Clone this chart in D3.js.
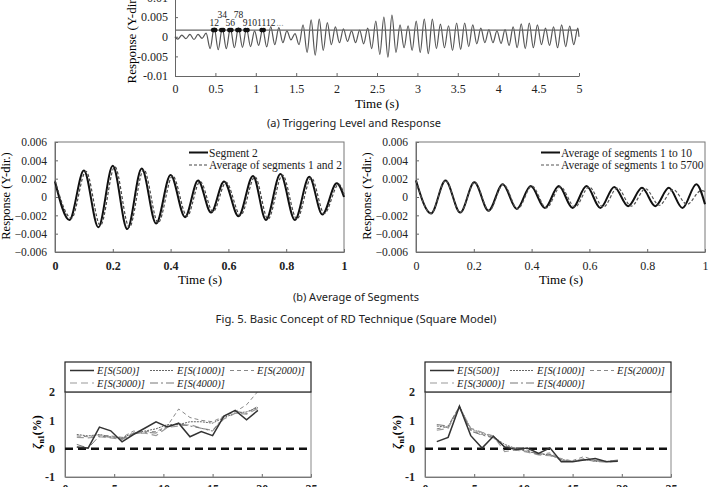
<!DOCTYPE html>
<html>
<head>
<meta charset="utf-8">
<script src="https://cdn.jsdelivr.net/npm/d3@7"></script>
<style>
  body { margin: 0; background: #fff; }
  svg { display: block; }
</style>
</head>
<body>
<svg id="fig" width="712" height="487"></svg>
<script>
// ---- (a) response record: one trough and one peak per 0.1 s cycle ----
const respTroughs = [-0.0006, -0.0005, -0.0007, -0.0004, -0.003, -0.0033, -0.003, -0.0028, -0.0027, -0.0025,
  -0.0022, -0.0026, -0.002, -0.0015, -0.0008, -0.002, -0.004, -0.0047, -0.0035, -0.002,
  -0.0015, -0.0012, -0.0015, -0.0018, -0.003, -0.0045, -0.0052, -0.004, -0.0028, -0.0035,
  -0.004, -0.0043, -0.003, -0.0028, -0.0035, -0.0032, -0.0025, -0.0018, -0.0015, -0.0015,
  -0.0017, -0.0022, -0.0028, -0.003, -0.0028, -0.002, -0.0022, -0.0028, -0.0025, -0.002];
const respPeaks = [0.0004, 0.0006, 0.0006, 0.0009, 0.0023, 0.0022, 0.0022, 0.0023, 0.0021, 0.0015,
  0.002, 0.0026, 0.0023, 0.0015, 0.0008, 0.003, 0.0043, 0.0045, 0.0036, 0.0025,
  0.002, 0.0015, 0.0017, 0.0022, 0.004, 0.005, 0.0055, 0.003, 0.0028, 0.004,
  0.0045, 0.0045, 0.0032, 0.0028, 0.0035, 0.0035, 0.003, 0.0022, 0.0018, 0.0015,
  0.0018, 0.0025, 0.0033, 0.0035, 0.003, 0.0022, 0.0025, 0.003, 0.0027, 0.0022];
const triggerLevel = 0.0017;
const crossTimes = [0.472, 0.498, 0.572, 0.598, 0.672, 0.698, 0.772, 0.798, 0.872, 0.898, 1.072, 1.098];
const crossLabels = ['12', '34', '56', '78', '9101112', '...'];
const crossLabelT = [0.485, 0.585, 0.685, 0.785, 0.84, 1.3];
const aXTicks = [0, 0.5, 1, 1.5, 2, 2.5, 3, 3.5, 4, 4.5, 5];
const aYTicks = [-0.01, -0.005, 0, 0.005, 0.01];

// ---- (b) averaged segments ----
const seg2T = [0, 0.05, 0.1, 0.15, 0.2, 0.25, 0.3, 0.35, 0.4, 0.45, 0.495, 0.54, 0.585, 0.635, 0.685, 0.73, 0.78, 0.83, 0.88, 0.925, 0.975, 1.0];
const seg2V = [0.0017, -0.0025, 0.0029, -0.0033, 0.0034, -0.0035, 0.0031, -0.0029, 0.0024, -0.0022, 0.0018, -0.0017, 0.0017, -0.0021, 0.0023, -0.0025, 0.0025, -0.0025, 0.0022, -0.0019, 0.0015, 0.0];
const avg12T = [0, 0.057, 0.107, 0.157, 0.207, 0.257, 0.307, 0.357, 0.407, 0.457, 0.502, 0.547, 0.592, 0.642, 0.692, 0.737, 0.787, 0.837, 0.887, 0.932, 0.982, 1.0];
const avg12V = [0.0018, -0.0023, 0.0028, -0.0031, 0.0033, -0.0033, 0.003, -0.0028, 0.0023, -0.0021, 0.0017, -0.0016, 0.0016, -0.002, 0.0022, -0.0024, 0.0024, -0.0024, 0.0021, -0.0018, 0.0014, 0.0003];
const avg10T = [0, 0.052, 0.102, 0.153, 0.202, 0.251, 0.3, 0.349, 0.397, 0.446, 0.494, 0.542, 0.59, 0.638, 0.686, 0.734, 0.782, 0.828, 0.875, 0.922, 0.97, 1.0];
const avg10V = [0.0018, -0.0018, 0.0018, -0.0017, 0.0016, -0.0015, 0.0014, -0.0013, 0.0012, -0.0012, 0.0012, -0.0012, 0.0012, -0.0012, 0.0011, -0.001, 0.001, -0.001, 0.001, -0.0012, 0.0014, -0.0008];
const avg5700T = [0, 0.052, 0.102, 0.153, 0.203, 0.253, 0.302, 0.352, 0.401, 0.451, 0.5, 0.55, 0.599, 0.648, 0.697, 0.745, 0.794, 0.842, 0.89, 0.938, 0.987, 1.0];
const avg5700V = [0.0018, -0.0018, 0.0018, -0.0017, 0.0016, -0.0015, 0.0014, -0.0013, 0.0012, -0.0012, 0.0011, -0.0011, 0.0011, -0.0011, 0.001, -0.001, 0.0009, -0.0009, 0.0008, -0.0008, 0.0007, 0.0006];
const bXTicks = [0, 0.2, 0.4, 0.6, 0.8, 1];
const bYTicks = [-0.006, -0.004, -0.002, 0, 0.002, 0.004, 0.006];

// ---- bottom: damping ratio estimates ----
const caseX = [1.2, 2.35, 3.5, 4.65, 5.8, 6.95, 8.1, 9.25, 10.4, 11.55, 12.7, 13.85, 15, 16.15, 17.3, 18.45, 19.6];
const seriesNames = ['E[S(500)]', 'E[S(1000)]', 'E[S(2000)]', 'E[S(3000)]', 'E[S(4000)]'];
const leftS500 = [0.06, 0.02, 0.76, 0.63, 0.24, 0.5, 0.72, 0.95, 0.77, 0.9, 0.42, 0.6, 0.46, 1.15, 1.35, 1.02, 1.35];
const leftS1000 = [0.5, 0.45, 0.5, 0.42, 0.38, 0.55, 0.62, 0.7, 0.85, 0.85, 0.95, 0.95, 0.9, 1.1, 1.25, 1.3, 1.45];
const leftS2000 = [0.45, 0.42, 0.48, 0.45, 0.4, 0.62, 0.6, 0.6, 0.8, 1.4, 1.1, 1.0, 0.95, 1.15, 1.3, 1.55, 2.02];
const leftS3000 = [0.4, 0.38, 0.42, 0.38, 0.32, 0.55, 0.55, 0.46, 0.75, 0.8, 0.85, 0.72, 0.65, 1.05, 1.25, 1.22, 1.42];
const leftS4000 = [0.15, 0.02, 0.45, 0.4, 0.36, 0.52, 0.58, 0.55, 0.78, 0.88, 0.8, 0.72, 0.62, 1.15, 1.32, 1.25, 1.5];
const rightS500 = [0.25, 0.4, 1.5, 0.46, 0.02, 0.44, 0.06, -0.03, 0.02, -0.17, 0.03, -0.46, -0.46, -0.4, -0.35, -0.46, -0.44];
const rightS1000 = [0.8, 0.75, 1.5, 0.7, 0.55, 0.42, 0.15, 0.0, -0.1, -0.18, -0.22, -0.38, -0.45, -0.38, -0.45, -0.45, -0.42];
const rightS2000 = [0.7, 0.78, 1.45, 0.65, 0.5, 0.4, 0.1, 0.02, -0.05, -0.2, -0.15, -0.4, -0.42, -0.28, -0.42, -0.46, -0.42];
const rightS3000 = [0.65, 0.72, 1.45, 0.72, 0.58, 0.45, -0.1, -0.05, -0.12, -0.22, -0.25, -0.35, -0.45, -0.35, -0.45, -0.48, -0.43];
const rightS4000 = [0.85, 0.8, 1.5, 0.62, 0.48, 0.38, 0.05, 0.02, -0.08, -0.2, -0.2, -0.42, -0.45, -0.4, -0.42, -0.45, -0.4];
const cXTicks = [0, 5, 10, 15, 20, 25];
const cYTicks = [-1, 0, 1, 2];

const svg = d3.select('#fig');
const serif = "'Liberation Serif', 'Times New Roman', serif";

function styleAxis(g, size, weight) {
    g.selectAll('text')
        .attr('font-family', serif)
        .attr('font-size', size)
        .attr('font-weight', weight || 'normal')
        .attr('fill', '#222');
    g.selectAll('line').attr('stroke', '#666');
    g.select('.domain').attr('stroke', '#666');
}

// ================= (a) =================
function drawPanelA() {
    const x = d3.scaleLinear().domain([0, 5]).range([175, 579]);
    const y = d3.scaleLinear().domain([-0.01, 0.01]).range([76, -2.5]);
    const g = svg.append('g');

    const pts = [[0, 0]];
    respTroughs.forEach((v, i) => {
        pts.push([0.035 + i * 0.1, v]);
        pts.push([0.085 + i * 0.1, respPeaks[i]]);
    });
    pts.push([5, 0]);

    g.append('g')
        .attr('transform', 'translate(0,76)')
        .call(d3.axisBottom(x).tickValues(aXTicks).tickSize(-3).tickSizeOuter(0).tickPadding(8).tickFormat(d => String(d)))
        .call(a => styleAxis(a, 12));
    g.append('g')
        .attr('transform', 'translate(175,0)')
        .call(d3.axisLeft(y).tickValues(aYTicks).tickSize(-3).tickSizeOuter(0).tickPadding(7).tickFormat(d => String(d)))
        .call(a => styleAxis(a, 12));

    g.append('path')
        .datum(pts)
        .attr('fill', 'none')
        .attr('stroke', '#555')
        .attr('stroke-width', 1.2)
        .attr('d', d3.line().x(d => x(d[0])).y(d => y(d[1])).curve(d3.curveMonotoneX));

    // triggering level
    g.append('line')
        .attr('x1', x(0)).attr('x2', x(5))
        .attr('y1', y(triggerLevel)).attr('y2', y(triggerLevel))
        .attr('stroke', '#666').attr('stroke-width', 1.2);

    g.selectAll('.cross')
        .data(crossTimes)
        .enter().append('circle')
        .attr('cx', d => x(d))
        .attr('cy', y(triggerLevel))
        .attr('r', 2.3)
        .attr('fill', '#111');

    g.selectAll('.clab')
        .data(crossLabels)
        .enter().append('text')
        .attr('x', (d, i) => x(crossLabelT[i]))
        .attr('y', (d, i) => (i % 2 === 1 && i < 4) ? 18 : 26)
        .attr('text-anchor', (d, i) => i === 4 ? 'start' : 'middle')
        .attr('font-family', serif)
        .attr('font-size', 9.5)
        .attr('fill', (d, i) => i === 5 ? '#999' : '#222')
        .text(d => d);

    g.append('text')
        .attr('x', 377).attr('y', 108)
        .attr('text-anchor', 'middle')
        .attr('font-family', serif).attr('font-size', 13)
        .text('Time (s)');
    g.append('text')
        .attr('transform', 'translate(136,38) rotate(-90)')
        .attr('text-anchor', 'middle')
        .attr('font-family', serif).attr('font-size', 13)
        .text('Response (Y-dir.)');
}

// ================= (b) =================
function drawPanelB(left, series, legend, boldX) {
    const x = d3.scaleLinear().domain([0, 1]).range([left, left + 289]);
    const y = d3.scaleLinear().domain([-0.006, 0.006]).range([252, 142]);
    const g = svg.append('g');

    g.append('g')
        .attr('transform', 'translate(0,252)')
        .call(d3.axisBottom(x).tickValues(bXTicks).tickSize(-3).tickSizeOuter(0).tickPadding(9).tickFormat(d => String(d)))
        .call(a => styleAxis(a, 12, boldX ? 'bold' : 'normal'));
    g.append('g')
        .attr('transform', `translate(${left},0)`)
        .call(d3.axisLeft(y).tickValues(bYTicks).tickSize(-3).tickSizeOuter(0).tickPadding(8)
            .tickFormat(d => d === 0 ? '0' : d3.format('.3f')(d)))
        .call(a => styleAxis(a, 11.5));

    g.append('rect')
        .attr('x', left).attr('y', 142)
        .attr('width', 289).attr('height', 110)
        .attr('fill', 'none').attr('stroke', '#777');

    const line = d3.line().x(d => x(d[0])).y(d => y(d[1])).curve(d3.curveMonotoneX);
    series.forEach(s => {
        g.append('path')
            .datum(s.t.map((t, i) => [t, s.v[i]]))
            .attr('fill', 'none')
            .attr('stroke', s.color)
            .attr('stroke-width', s.width)
            .attr('stroke-dasharray', s.dash)
            .attr('d', line);
    });

    series.forEach((s, i) => {
        const ly = legend.y + i * 12.5;
        g.append('line')
            .attr('x1', legend.x).attr('x2', legend.x + 19)
            .attr('y1', ly).attr('y2', ly)
            .attr('stroke', s.color).attr('stroke-width', s.width)
            .attr('stroke-dasharray', s.dash);
        g.append('text')
            .attr('x', legend.x + 20).attr('y', ly + 4)
            .attr('font-family', serif).attr('font-size', 11.5)
            .attr('fill', '#222')
            .text(s.name);
    });

    g.append('text')
        .attr('x', left + 145).attr('y', 284)
        .attr('text-anchor', 'middle')
        .attr('font-family', serif).attr('font-size', 13)
        .text('Time (s)');
    g.append('text')
        .attr('transform', `translate(${left - 45},196) rotate(-90)`)
        .attr('text-anchor', 'middle')
        .attr('font-family', serif).attr('font-size', 12.5)
        .text('Response (Y-dir.)');
}

// ================= bottom =================
const dampStyles = [
    { color: '#333', width: 1.5, dash: null },
    { color: '#666', width: 1, dash: '2,1' },
    { color: '#888', width: 1, dash: '4,3' },
    { color: '#999', width: 1.2, dash: '7,4' },
    { color: '#777', width: 1, dash: '8,3,2,3' }
];

function drawDamping(left, data) {
    const x = d3.scaleLinear().domain([0, 25]).range([left, left + 246]);
    const y = d3.scaleLinear().domain([-1, 2]).range([477, 392]);
    const g = svg.append('g');

    g.append('g')
        .attr('transform', 'translate(0,477)')
        .call(d3.axisBottom(x).tickValues(cXTicks).tickSize(-3).tickSizeOuter(0).tickPadding(7))
        .call(a => styleAxis(a, 12, 'bold'));
    g.append('g')
        .attr('transform', `translate(${left},0)`)
        .call(d3.axisLeft(y).tickValues(cYTicks).tickSize(0).tickPadding(10).tickFormat(d => String(d)))
        .call(a => styleAxis(a, 12, 'bold'));

    g.append('rect')
        .attr('x', left).attr('y', 392)
        .attr('width', 246).attr('height', 85)
        .attr('fill', 'none').attr('stroke', '#888');

    g.append('line')
        .attr('x1', left).attr('x2', left + 246)
        .attr('y1', y(0)).attr('y2', y(0))
        .attr('stroke', '#111').attr('stroke-width', 2.5)
        .attr('stroke-dasharray', '8,5');

    const clip = 'clip' + left;
    g.append('clipPath').attr('id', clip)
        .append('rect').attr('x', left).attr('y', 392).attr('width', 246).attr('height', 85);

    const line = d3.line().x((d, i) => x(caseX[i])).y(d => y(d));
    // draw lighter series first, E[S(500)] on top
    [1, 2, 3, 4, 0].forEach(k => {
        const st = dampStyles[k];
        g.append('path')
            .datum(data[k])
            .attr('clip-path', `url(#${clip})`)
            .attr('fill', 'none')
            .attr('stroke', st.color)
            .attr('stroke-width', st.width)
            .attr('stroke-dasharray', st.dash)
            .attr('d', line);
    });

    // legend box
    g.append('rect')
        .attr('x', left).attr('y', 362)
        .attr('width', 246).attr('height', 30)
        .attr('fill', '#fff').attr('stroke', '#222').attr('stroke-width', 1.2);
    const legPos = [[5, 370.5], [85, 370.5], [165, 370.5], [5, 383], [85, 383]];
    seriesNames.forEach((name, k) => {
        const st = dampStyles[k];
        const [lx, ly] = legPos[k];
        g.append('line')
            .attr('x1', left + lx).attr('x2', left + lx + 24)
            .attr('y1', ly).attr('y2', ly)
            .attr('stroke', st.color).attr('stroke-width', st.width)
            .attr('stroke-dasharray', st.dash);
        g.append('text')
            .attr('x', left + lx + 27).attr('y', ly + 3.5)
            .attr('font-family', serif).attr('font-size', 10.5)
            .attr('font-style', 'italic').attr('fill', '#222')
            .text(name);
    });

    const lab = g.append('text')
        .attr('transform', `translate(${left - 24},432) rotate(-90)`)
        .attr('text-anchor', 'middle')
        .attr('font-family', serif).attr('font-size', 12).attr('font-weight', 'bold');
    lab.append('tspan').attr('font-style', 'italic').text('ζ');
    lab.append('tspan').attr('font-size', 8).attr('dy', 3).text('n1');
    lab.append('tspan').attr('dy', -3).text('(%)');
}

// ================= captions =================
function caption(text, cx, cy, size) {
    svg.append('text')
        .attr('x', cx).attr('y', cy)
        .attr('text-anchor', 'middle')
        .attr('font-family', "'Noto Sans', 'Open Sans', sans-serif")
        .attr('font-size', size)
        .attr('fill', '#222')
        .text(text);
}

drawPanelA();
drawPanelB(55, [
    { name: 'Segment 2', t: seg2T, v: seg2V, color: '#111', width: 2, dash: null },
    { name: 'Average of segments 1 and 2', t: avg12T, v: avg12V, color: '#444', width: 1.2, dash: '3,2' }
], { x: 189, y: 152.5 }, true);
drawPanelB(416, [
    { name: 'Average of segments 1 to 10', t: avg10T, v: avg10V, color: '#111', width: 2, dash: null },
    { name: 'Average of segments 1 to 5700', t: avg5700T, v: avg5700V, color: '#555', width: 1.2, dash: '3,2' }
], { x: 541, y: 152.5 }, false);
drawDamping(65, [leftS500, leftS1000, leftS2000, leftS3000, leftS4000]);
drawDamping(425, [rightS500, rightS1000, rightS2000, rightS3000, rightS4000]);

caption('(a) Triggering Level and Response', 354, 127, 11);
caption('(b) Average of Segments', 356, 301, 11);
caption('Fig. 5. Basic Concept of RD Technique (Square Model)', 356, 323, 11.3);
</script>
</body>
</html>
